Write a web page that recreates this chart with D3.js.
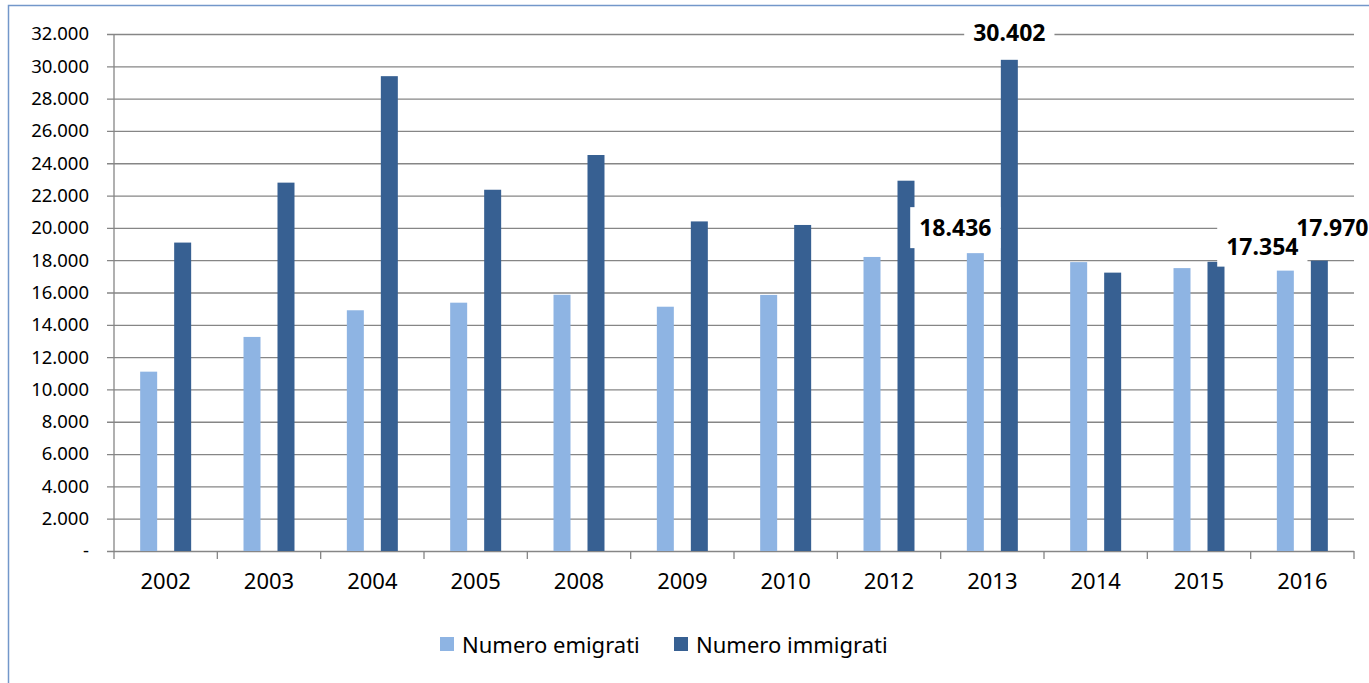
<!DOCTYPE html>
<html>
<head>
<meta charset="utf-8">
<script src="https://cdn.jsdelivr.net/npm/d3@7"></script>
<style>
  body { margin: 0; background: #fff; }
  svg { display: block; font-family: 'Noto Sans', sans-serif; }
</style>
</head>
<body>
<div id="chart"></div>
<script>
const years = ['2002', '2003', '2004', '2005', '2008', '2009', '2010', '2012', '2013', '2014', '2015', '2016'];
const emigrati = [11100, 13250, 14900, 15370, 15860, 15120, 15850, 18200, 18436, 17880, 17510, 17354];
const immigrati = [19090, 22800, 29390, 22360, 24510, 20400, 20180, 22920, 30402, 17230, 17900, 17970];
const seriesNames = ['Numero emigrati', 'Numero immigrati'];
const yTicks = [0, 2000, 4000, 6000, 8000, 10000, 12000, 14000, 16000, 18000, 20000, 22000, 24000, 26000, 28000, 30000, 32000];

const colors = ['#8eb4e3', '#376092'];
const gridColor = '#868686';

const W = 1369, H = 683;
const plotLeft = 114, plotRight = 1354, plotTop = 34, plotBottom = 551;

const it = d3.formatLocale({ decimal: ',', thousands: '.', grouping: [3], currency: ['€', ''] });
const fmt = it.format(',d');

const svg = d3.select('#chart').append('svg')
  .attr('width', W)
  .attr('height', H);

// outer chart border
svg.append('rect')
  .attr('x', 8.5).attr('y', 5.5)
  .attr('width', W + 20).attr('height', H + 20)
  .attr('fill', 'none')
  .attr('stroke', '#7397ca')
  .attr('stroke-width', 1.5);

const x = d3.scaleBand().domain(years).range([plotLeft, plotRight]);
const x1 = d3.scaleBand().domain([0, 1]).range([0, x.bandwidth()])
  .paddingInner(0.5).paddingOuter(0.77);
const y = d3.scaleLinear().domain([0, 32000]).range([plotBottom, plotTop]);

// horizontal gridlines + y labels
const yAxis = d3.axisLeft(y)
  .tickValues(yTicks)
  .tickSize(-(plotRight - (plotLeft - 7)))
  .tickPadding(18)
  .tickFormat((d) => d === 0 ? '-' : fmt(d));

svg.append('g')
  .attr('transform', 'translate(' + (plotLeft - 7) + ',0)')
  .call(yAxis)
  .call((g) => g.select('.domain').remove())
  .call((g) => g.selectAll('line').attr('stroke', gridColor).attr('stroke-width', 1.3))
  .call((g) => g.selectAll('text')
    .attr('fill', '#000')
    .style('font-size', '18.5px')
    .style('font-family', "'Noto Sans', sans-serif"));

// y axis line
svg.append('line')
  .attr('x1', plotLeft).attr('x2', plotLeft)
  .attr('y1', plotTop).attr('y2', plotBottom)
  .attr('stroke', gridColor).attr('stroke-width', 1.3);

// x tick marks at category boundaries
const bounds = years.map((d) => x(d)).concat([plotRight]);
svg.append('g').selectAll('line')
  .data(bounds)
  .enter().append('line')
  .attr('x1', (d) => d).attr('x2', (d) => d)
  .attr('y1', plotBottom).attr('y2', plotBottom + 8)
  .attr('stroke', gridColor).attr('stroke-width', 1.3);

// x labels
svg.append('g')
  .attr('transform', 'translate(0,' + plotBottom + ')')
  .call(d3.axisBottom(x).tickSize(0).tickPadding(22))
  .call((g) => g.select('.domain').remove())
  .call((g) => g.selectAll('text')
    .attr('fill', '#000')
    .style('font-size', '22px')
    .style('font-family', "'Noto Sans', sans-serif"));

// bars
const series = [emigrati, immigrati];
series.forEach((values, si) => {
  svg.append('g').selectAll('rect')
    .data(values)
    .enter().append('rect')
    .attr('x', (d, i) => x(years[i]) + x1(si))
    .attr('width', x1.bandwidth())
    .attr('y', (d) => y(d))
    .attr('height', (d) => plotBottom - y(d))
    .attr('fill', colors[si]);
});

// data labels (moved by hand in the original, hence the shifts)
const labels = [
  { s: 1, year: '2013', dx: 0, dy: -27 },
  { s: 0, year: '2013', dx: -20, dy: -25 },
  { s: 0, year: '2016', dx: -23, dy: -24 },
  { s: 1, year: '2016', dx: 13, dy: -33 }
];

// white boxes first, texts on top so no box hides another label
const boxG = svg.append('g');
const textG = svg.append('g');
labels.forEach((l) => {
  const i = years.indexOf(l.year);
  const v = series[l.s][i];
  const cx = x(l.year) + x1(l.s) + x1.bandwidth() / 2 + l.dx;
  const cy = y(v) + l.dy;
  const t = textG.append('text')
    .attr('x', cx).attr('y', cy)
    .attr('dy', '0.35em')
    .attr('text-anchor', 'middle')
    .style('font-size', '23px')
    .style('font-weight', 'bold')
    .text(fmt(v));
  const w = t.node().getComputedTextLength();
  boxG.append('rect')
    .attr('fill', '#fff')
    .attr('x', cx - w / 2 - 9).attr('y', cy - 21)
    .attr('width', w + 18).attr('height', 41);
});

// legend
const legend = svg.append('g');
const legendX = [440, 674];
seriesNames.forEach((name, si) => {
  legend.append('rect')
    .attr('x', legendX[si]).attr('y', 637)
    .attr('width', 14).attr('height', 14)
    .attr('fill', colors[si]);
  legend.append('text')
    .attr('x', legendX[si] + 22).attr('y', 645)
    .attr('dy', '0.35em')
    .style('font-size', '22px')
    .text(name);
});
</script>
</body>
</html>
